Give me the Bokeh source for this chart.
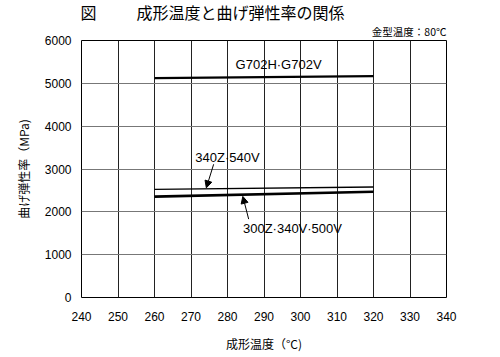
from bokeh.plotting import figure
from bokeh.models import Label, Arrow, NormalHead, FixedTicker, Range1d, Title
from bokeh.embed import file_html
from bokeh.resources import INLINE

# data
temps = [260, 320]
g702 = [5120, 5170]
s340z = [2525, 2580]
s300z = [2355, 2470]
x_ticks = [240, 250, 260, 270, 280, 290, 300, 310, 320, 330, 340]
y_ticks = [0, 1000, 2000, 3000, 4000, 5000, 6000]

JP = "Noto Sans CJK JP"
LAT = "Liberation Sans"

p = figure(width=500, height=357, output_backend="svg", toolbar_location=None,
           x_range=Range1d(240, 340), y_range=Range1d(0, 6000),
           min_border_left=81, min_border_right=54, min_border_top=40, min_border_bottom=60)
p.background_fill_color = "white"
p.border_fill_color = "white"
p.outline_line_color = "black"
p.outline_line_width = 1

p.title.text = "図\u3000\u3000\u2002成形温度と曲げ弾性率の関係"
p.title.text_font = JP
p.title.text_font_size = "16px"
p.title.text_font_style = "normal"
p.title.text_color = "black"
p.title.align = "left"
p.title.offset = -1
p.title.standoff = -8

sub = Title(text="金型温度：80℃", text_font=JP, text_font_size="10.5px",
            text_font_style="normal", text_color="black", align="right",
            standoff=4, offset=0)
p.add_layout(sub, "above")

p.xaxis.ticker = FixedTicker(ticks=x_ticks)
p.yaxis.ticker = FixedTicker(ticks=y_ticks)
for ax in (p.xaxis, p.yaxis):
    ax.axis_line_color = None
    ax.major_tick_line_color = None
    ax.minor_tick_line_color = None
    ax.major_label_text_font = LAT
    ax.major_label_text_font_size = "12px"
    ax.major_label_text_color = "black"
    ax.axis_label_text_font = JP
    ax.axis_label_text_font_style = "normal"
    ax.axis_label_text_font_size = "12px"
    ax.axis_label_text_color = "black"
p.xaxis.major_label_standoff = 8
p.yaxis.major_label_standoff = 4
p.xaxis.axis_label = "成形温度（°C)"
p.xaxis.axis_label_standoff = 11
p.yaxis.axis_label = "曲げ弾性率（MPa)"
p.yaxis.axis_label_standoff = 10

p.xgrid.grid_line_color = "#222222"
p.xgrid.grid_line_width = 1
p.ygrid.grid_line_color = "#777777"
p.ygrid.grid_line_width = 1

p.line(temps, g702, line_color="black", line_width=2.2)
p.line(temps, s340z, line_color="black", line_width=1.3)
p.line(temps, s300z, line_color="black", line_width=2.6)

def lab(x, y, t, size="13px", font=LAT, align="center"):
    p.add_layout(Label(x=x, y=y, text=t, text_font=font, text_font_size=size,
                       text_align=align, text_baseline="middle", text_color="black"))

lab(294, 5450, "G702H·G702V")
lab(280, 3258, "340Z·540V")
lab(297.8, 1620, "300Z·340V·500V")

p.add_layout(Arrow(end=NormalHead(size=7, fill_color="black", line_color="black"),
                   x_start=276.2, y_start=3110, x_end=274.2, y_end=2560,
                   line_color="black", line_width=1))
p.add_layout(Arrow(end=NormalHead(size=7, fill_color="black", line_color="black"),
                   x_start=285.8, y_start=1830, x_end=284.2, y_end=2360,
                   line_color="black", line_width=1))

open("out.html", "w").write(file_html(p, INLINE))
